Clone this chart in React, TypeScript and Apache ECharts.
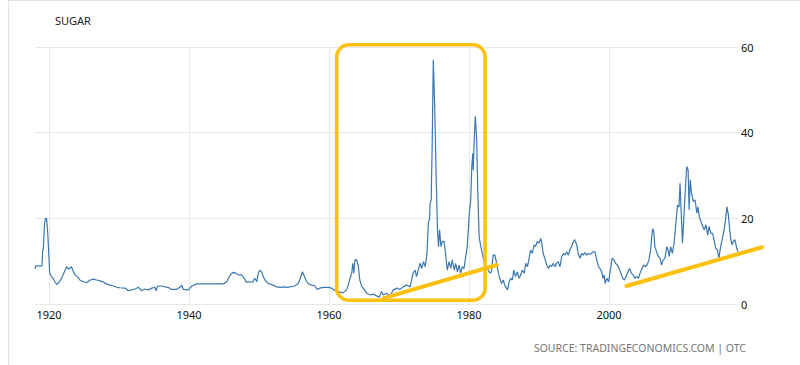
import React, { useEffect, useRef } from "react";
import * as echarts from "echarts";

// Sugar price (US cents / lb), [decimal year, price]
const sugarSeries: [number, number][] = [
  [1918.0, 8.2], [1918.1, 8.9], [1919.0, 8.9], [1919.1, 12.6], [1919.2, 13.0], [1919.35, 18.5],
  [1919.5, 20.0], [1919.65, 20.0], [1919.8, 17.0], [1919.9, 14.0], [1920.1, 7.2], [1920.35, 6.4],
  [1920.6, 6.0], [1920.85, 5.2], [1921.1, 4.6], [1921.3, 4.8], [1921.8, 6.0], [1922.0, 6.8],
  [1922.3, 7.9], [1922.5, 8.7], [1922.75, 8.2], [1923.0, 8.3], [1923.2, 8.7], [1923.5, 7.5],
  [1923.7, 6.8], [1924.2, 6.2], [1924.4, 5.6], [1924.9, 5.2], [1925.4, 5.0], [1925.9, 5.6],
  [1926.3, 5.8], [1926.8, 5.6], [1927.3, 5.4], [1927.8, 5.1], [1928.2, 4.7], [1928.7, 4.4],
  [1929.2, 4.2], [1929.7, 3.9], [1930.1, 3.8], [1930.9, 3.7], [1931.3, 3.1], [1931.8, 3.3],
  [1932.3, 3.5], [1932.8, 3.9], [1933.2, 3.1], [1933.7, 3.5], [1934.2, 3.3], [1934.7, 3.7],
  [1935.1, 3.9], [1935.3, 3.1], [1935.5, 4.2], [1936.1, 4.2], [1936.6, 4.0], [1937.0, 3.9],
  [1937.5, 3.4], [1938.2, 3.4], [1938.7, 3.9], [1938.95, 4.4], [1939.2, 3.4], [1939.9, 3.3],
  [1940.4, 4.2], [1941.1, 4.7], [1944.9, 4.7], [1945.4, 5.2], [1945.9, 6.8], [1946.3, 7.4],
  [1946.7, 7.2], [1947.0, 6.8], [1947.5, 6.8], [1947.9, 6.0], [1948.2, 5.1], [1948.7, 5.2],
  [1949.1, 5.1], [1949.4, 6.0], [1949.7, 5.2], [1949.9, 7.2], [1950.1, 7.9], [1950.4, 7.5],
  [1950.6, 6.4], [1950.85, 5.6], [1951.3, 4.8], [1952.0, 4.4], [1952.5, 4.0], [1953.0, 3.9],
  [1953.5, 4.0], [1953.9, 3.9], [1954.4, 4.0], [1955.1, 4.2], [1955.6, 4.8], [1955.9, 6.0],
  [1956.2, 7.5], [1956.4, 6.8], [1956.7, 5.6], [1957.0, 4.8], [1957.5, 4.4], [1958.0, 4.2],
  [1958.3, 3.4], [1958.7, 3.7], [1959.2, 3.9], [1959.9, 3.9], [1960.4, 3.7], [1960.9, 3.1],
  [1961.3, 2.9], [1962.0, 2.6], [1962.5, 3.3], [1962.75, 4.4], [1963.0, 6.0], [1963.25, 7.2],
  [1963.4, 9.5], [1963.55, 7.2], [1963.7, 10.3], [1963.95, 10.3], [1964.2, 8.7], [1964.4, 5.6],
  [1964.7, 4.0], [1964.9, 3.7], [1965.4, 2.5], [1965.9, 2.1], [1966.3, 2.3], [1966.8, 1.9],
  [1967.2, 1.6], [1967.5, 2.9], [1967.75, 2.1], [1968.2, 2.5], [1968.7, 1.9], [1969.2, 3.3],
  [1969.7, 3.7], [1970.1, 3.4], [1970.6, 4.0], [1971.1, 4.4], [1971.6, 4.0], [1971.8, 5.6],
  [1972.0, 7.2], [1972.3, 7.9], [1972.5, 6.4], [1972.75, 7.9], [1973.0, 9.5], [1973.25, 8.3],
  [1973.5, 9.9], [1973.75, 8.7], [1974.0, 11.8], [1974.2, 19.2], [1974.35, 19.6], [1974.45, 23.5],
  [1974.6, 24.3], [1974.75, 38.3], [1974.9, 57.0], [1975.1, 46.1], [1975.3, 30.5], [1975.5, 17.3],
  [1975.65, 13.4], [1975.8, 17.3], [1976.0, 13.4], [1976.2, 14.6], [1976.45, 14.6], [1976.7, 11.1],
  [1976.9, 7.9], [1977.15, 9.9], [1977.4, 8.3], [1977.6, 10.3], [1977.9, 7.9], [1978.1, 9.5],
  [1978.35, 7.5], [1978.6, 9.1], [1978.8, 7.2], [1979.05, 8.7], [1979.3, 8.3], [1979.5, 10.7],
  [1979.75, 13.4], [1980.05, 21.2], [1980.25, 24.3], [1980.4, 32.1], [1980.55, 35.2], [1980.6, 31.3],
  [1980.75, 38.3], [1980.9, 43.8], [1981.1, 38.3], [1981.25, 26.6], [1981.45, 15.7], [1981.6, 14.2],
  [1981.8, 12.6], [1982.3, 8.7], [1982.75, 7.9], [1983.0, 7.2], [1983.2, 7.5], [1983.45, 11.4],
  [1983.7, 11.4], [1983.95, 9.5], [1984.2, 7.2], [1984.4, 6.0], [1984.65, 4.8], [1984.9, 5.6],
  [1985.1, 4.4], [1985.5, 3.3], [1985.75, 5.2], [1985.95, 6.0], [1986.2, 5.6], [1986.4, 7.9],
  [1986.65, 6.4], [1986.9, 7.5], [1987.15, 6.0], [1987.4, 6.8], [1987.6, 7.9], [1987.9, 7.2],
  [1988.1, 9.5], [1988.35, 8.7], [1988.6, 10.7], [1988.8, 12.6], [1989.05, 11.8], [1989.3, 13.8],
  [1989.5, 13.4], [1989.75, 14.6], [1990.0, 14.2], [1990.25, 15.3], [1990.4, 14.2], [1990.6, 11.8],
  [1990.9, 10.3], [1991.1, 9.1], [1991.35, 8.3], [1991.6, 9.1], [1991.8, 8.7], [1992.05, 9.5],
  [1992.3, 8.7], [1992.5, 9.5], [1992.75, 9.9], [1993.0, 8.7], [1993.25, 11.1], [1993.5, 11.8],
  [1993.7, 11.4], [1993.95, 12.2], [1994.2, 11.4], [1994.4, 12.6], [1994.65, 13.4], [1994.9, 14.6],
  [1995.1, 15.0], [1995.4, 13.8], [1995.6, 11.8], [1995.85, 10.7], [1996.1, 11.8], [1996.3, 11.4],
  [1996.55, 12.0], [1996.8, 11.4], [1997.05, 11.8], [1997.3, 11.6], [1997.5, 11.8], [1997.75, 12.2],
  [1998.0, 12.2], [1998.25, 10.3], [1998.5, 8.7], [1998.7, 8.3], [1998.95, 7.5], [1999.15, 6.0],
  [1999.3, 6.8], [1999.45, 4.8], [1999.7, 6.0], [1999.95, 5.2], [2000.2, 7.9], [2000.45, 10.7],
  [2000.7, 10.3], [2000.95, 9.5], [2001.2, 9.1], [2001.45, 8.3], [2001.7, 7.2], [2001.95, 6.0],
  [2002.2, 5.6], [2002.45, 6.4], [2002.7, 7.5], [2002.95, 8.3], [2003.2, 7.2], [2003.45, 6.8],
  [2003.7, 6.0], [2003.95, 6.4], [2004.2, 6.0], [2004.45, 7.2], [2004.7, 8.3], [2004.95, 9.1],
  [2005.2, 8.7], [2005.45, 9.1], [2005.7, 10.3], [2005.95, 12.6], [2006.1, 15.7], [2006.25, 17.6],
  [2006.4, 16.9], [2006.55, 13.4], [2006.8, 12.2], [2007.05, 11.1], [2007.3, 10.7], [2007.5, 9.1],
  [2007.75, 10.3], [2008.0, 10.7], [2008.25, 13.4], [2008.45, 12.6], [2008.6, 11.1], [2008.8, 13.4],
  [2009.05, 11.8], [2009.3, 14.2], [2009.55, 18.8], [2009.8, 23.1], [2010.0, 22.7], [2010.15, 28.2],
  [2010.3, 22.0], [2010.5, 14.2], [2010.7, 20.4], [2010.9, 26.6], [2011.1, 32.1], [2011.3, 31.3],
  [2011.45, 22.0], [2011.6, 29.0], [2011.8, 25.8], [2012.05, 23.9], [2012.3, 24.3], [2012.55, 21.2],
  [2012.7, 22.7], [2012.9, 20.4], [2013.15, 19.2], [2013.4, 18.1], [2013.6, 17.3], [2013.85, 18.5],
  [2014.1, 16.1], [2014.3, 18.1], [2014.55, 16.5], [2014.8, 16.5], [2015.0, 15.0], [2015.25, 13.0],
  [2015.5, 12.6], [2015.7, 10.7], [2015.95, 13.4], [2016.2, 15.3], [2016.45, 17.3], [2016.7, 20.4],
  [2016.85, 22.7], [2017.05, 20.8], [2017.2, 18.1], [2017.4, 15.0], [2017.6, 13.8], [2017.75, 14.6],
  [2018.0, 15.0], [2018.25, 13.0], [2018.43, 12.2],
];

const xTickYears = [1920, 1940, 1960, 1980, 2000];
const yTicks = [0, 20, 40, 60];

// Hand-drawn annotations, in data coordinates [year, price]
const highlightBoxCorners: [number, number][] = [[1961.1, 60.5], [1982.3, 0.9]];
const trendLines: [number, number][][] = [
  [[1967.7, 1.33], [1983.96, 9.11]],
  [[2002.5, 4.2], [2021.86, 13.25]],
];

const titleText = "SUGAR";
const sourceText = "SOURCE: TRADINGECONOMICS.COM | OTC";

const FONT = "'Noto Sans', 'Open Sans', sans-serif";
const YELLOW = "#fcc10f";

export default function App() {
  const ref = useRef<HTMLDivElement>(null);

  useEffect(() => {
    if (!ref.current) return;
    const chart = echarts.init(ref.current, null, { renderer: "svg" });
    chart.setOption({
      animation: false,
      grid: { left: 35, right: 62, top: 47, bottom: 61, containLabel: false },
      xAxis: {
        type: "value",
        min: 1918,
        max: 2018.43,
        axisLine: { show: false },
        axisTick: { show: false, customValues: xTickYears },
        axisLabel: {
          customValues: xTickYears,
          formatter: (v: number) => String(v),
          color: "#111",
          fontSize: 11,
          fontFamily: FONT,
          margin: 5,
        },
        splitLine: { show: true, lineStyle: { color: "#e8e8e8", width: 1 } },
      },
      yAxis: {
        type: "value",
        position: "right",
        min: yTicks[0],
        max: yTicks[yTicks.length - 1],
        interval: 20,
        axisLine: { show: false },
        axisTick: { show: false },
        axisLabel: { color: "#111", fontSize: 11, fontFamily: FONT, margin: 3 },
        splitLine: { show: true, lineStyle: { color: "#e8e8e8", width: 1 } },
      },
      series: [
        {
          type: "line",
          data: sugarSeries,
          showSymbol: false,
          symbol: "none",
          lineStyle: { color: "#3c78b4", width: 1.2 },
          z: 3,
        },
      ],
    });

    const px = (p: [number, number]) =>
      chart.convertToPixel({ xAxisIndex: 0, yAxisIndex: 0 }, p) as number[];
    const [bx1, by1] = px(highlightBoxCorners[0]);
    const [bx2, by2] = px(highlightBoxCorners[1]);

    const graphics: any[] = [
      {
        type: "line",
        shape: { x1: 8.5, y1: 0, x2: 8.5, y2: 365 },
        style: { stroke: "#e3e3e3", lineWidth: 1 },
        silent: true,
      },
      {
        type: "line",
        shape: { x1: 8, y1: 0.5, x2: 800, y2: 0.5 },
        style: { stroke: "#e3e3e3", lineWidth: 1 },
        silent: true,
      },
      {
        type: "text",
        x: 55,
        y: 20,
        style: {
          text: titleText,
          fill: "#222",
          font: `11px ${FONT}`,
          textAlign: "left",
          textVerticalAlign: "middle",
        },
      },
      {
        type: "text",
        x: 746,
        y: 348,
        style: {
          text: sourceText,
          fill: "#777",
          font: `10.5px ${FONT}`,
          textAlign: "right",
          textVerticalAlign: "middle",
        },
      },
      {
        type: "rect",
        z: 100,
        shape: {
          x: Math.min(bx1, bx2),
          y: Math.min(by1, by2),
          width: Math.abs(bx2 - bx1),
          height: Math.abs(by2 - by1),
          r: 12,
        },
        style: { fill: "none", stroke: YELLOW, lineWidth: 3.5 },
        silent: true,
      },
      ...trendLines.map((seg) => {
        const [x1, y1] = px(seg[0]);
        const [x2, y2] = px(seg[1]);
        return {
          type: "line",
          z: 100,
          shape: { x1, y1, x2, y2 },
          style: { stroke: YELLOW, lineWidth: 4, lineCap: "round" },
          silent: true,
        };
      }),
    ];
    chart.setOption({ graphic: graphics });

    return () => chart.dispose();
  }, []);

  return (
    <div
      ref={ref}
      style={{ position: "absolute", left: 0, top: 0, width: 800, height: 365, background: "#fff" }}
    />
  );
}
